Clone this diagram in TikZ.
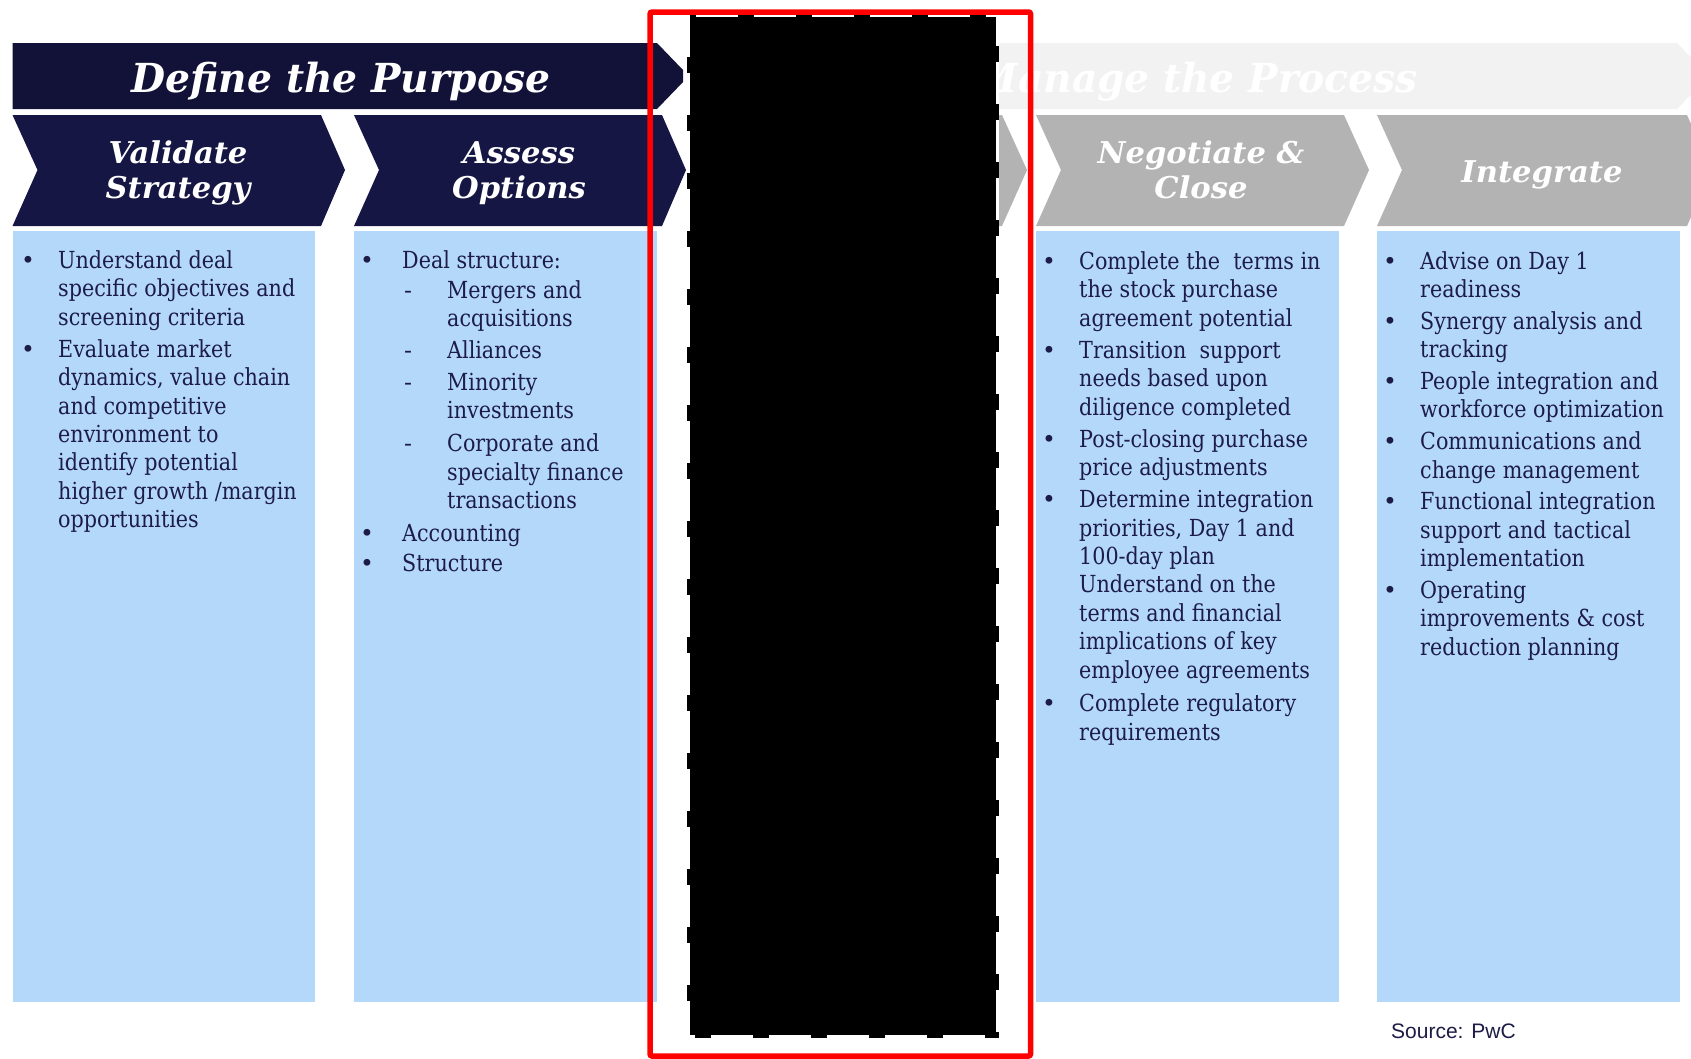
\documentclass[tikz,border=0pt]{standalone}
\usepackage{fontspec}
\setmainfont{DejaVu Serif}[FakeStretch=0.88]
\newfontfamily\titlefont{DejaVu Serif}[FakeStretch=0.98]
\newfontfamily\headfont{DejaVu Serif}[FakeStretch=1.02]
\newfontfamily\bulfont{DejaVu Serif}
\newfontfamily\srcfont{Liberation Sans}
\definecolor{navyD}{RGB}{18,17,56}
\definecolor{navyC}{RGB}{22,22,69}
\definecolor{lblue}{RGB}{180,216,250}
\definecolor{chgray}{RGB}{179,179,179}
\definecolor{mgray}{RGB}{242,242,242}
\definecolor{txt}{RGB}{28,28,70}
\tikzset{
  body/.style={anchor=base west, inner sep=0pt, text=txt, font=\fontsize{23.5}{28}\selectfont},
  bul/.style={anchor=base, inner sep=0pt, text=txt, font=\bulfont\fontsize{23.5}{28}\selectfont},
  htitle/.style={anchor=base, inner sep=0pt, text=white, font=\titlefont\bfseries\itshape\fontsize{40}{44}\selectfont},
  hchev/.style={anchor=base, inner sep=0pt, text=white, font=\headfont\bfseries\itshape\fontsize{30}{36}\selectfont},
}
\begin{document}
\begin{tikzpicture}[x=1pt,y=-1pt]
\useasboundingbox (0,0) rectangle (1691,1058);
\clip (0,0) rectangle (1691,1058);
\fill[white] (0,0) rectangle (1691,1058);
% banners
\fill[navyD] (12.5,43) -- (657,43) -- (683,70) -- (683,82) -- (657,109) -- (12.5,109) -- cycle;
\fill[mgray] (698,43) -- (1677,43) -- (1703,70) -- (1703,82) -- (1677,109) -- (698,109) -- cycle;
% chevrons
\fill[navyC] (12.5,115) -- (321,115) -- (345,170) -- (321,226) -- (12.5,226) -- (37.5,170) -- cycle;
\fill[navyC] (354,115) -- (662,115) -- (686,170) -- (662,226) -- (354,226) -- (379,170) -- cycle;
\fill[chgray] (695,115) -- (1002,115) -- (1027,170) -- (1002,226) -- (695,226) -- (720,170) -- cycle;
\fill[chgray] (1036,115) -- (1344,115) -- (1369,170) -- (1344,226) -- (1036,226) -- (1061,170) -- cycle;
\fill[chgray] (1377,115) -- (1687,115) -- (1712,170) -- (1687,226) -- (1377,226) -- (1402,170) -- cycle;
% boxes
\fill[lblue] (12.5,231) rectangle (315,1002);
\fill[lblue] (354,231) rectangle (657,1002);
\fill[lblue] (695,231) rectangle (998,1002);
\fill[lblue] (1036,231) rectangle (1339,1002);
\fill[lblue] (1377,231) rectangle (1680,1002);
% headings
\node[htitle] (t1) at (341,92.5) {Define the Purpose};
\node[htitle, anchor=base east] (t2) at (1418,92.5) {Manage the Process};
\node[hchev] (h1a) at (178,163) {Validate};
\node[hchev] (h1b) at (178,198) {Strategy};
\node[hchev] (h2a) at (519,163) {Assess};
\node[hchev] (h2b) at (519,198) {Options};
\node[hchev] (h4a) at (1201,163) {Negotiate \&};
\node[hchev] (h4b) at (1201,198) {Close};
\node[hchev] (h5a) at (1542,182) {Integrate};
% column 1
\foreach \y/\t [count=\i] in {268.3/{Understand deal}, 296.7/{specific objectives and}, 325.1/{screening criteria},
  357.3/{Evaluate market}, 385.7/{dynamics, value chain}, 414.1/{and competitive}, 442.5/{environment to},
  470.9/{identify potential}, 499.3/{higher growth /margin}, 527.7/{opportunities}}
  \node[body] (a\i) at (58,\y) {\t};
\foreach \y [count=\i] in {268.3,357.3} \node[bul] (ab\i) at (28,\y) {•};
% column 2
\node[body] (b1) at (402,268.3) {Deal structure:};
\foreach \y/\t [count=\i] in {298.3/{Mergers and}, 326.7/{acquisitions}, 358.3/{Alliances}, 390/{Minority},
  418.3/{investments}, 451.7/{Corporate and}, 480/{specialty finance}, 508.3/{transactions}}
  \node[body] (bs\i) at (447,\y) {\t};
\node[body] (b2) at (402,541.7) {Accounting};
\node[body] (b3) at (402,571.7) {Structure};
\foreach \y [count=\i] in {268.3,541.7,571.7} \node[bul] (bb\i) at (367,\y) {•};
\foreach \y [count=\i] in {298.3,358.3,390,451.7} \node[bul] (bd\i) at (408,\y) {-};
% column 4
\foreach \y/\t [count=\i] in {269.3/{Complete the\ \ terms in}, 297.7/{the stock purchase}, 326.1/{agreement potential},
  358.3/{Transition\ \ support}, 386.7/{needs based upon}, 415.1/{diligence completed},
  447.3/{Post-closing purchase}, 475.7/{price adjustments},
  507.7/{Determine integration}, 536.1/{priorities, Day 1 and}, 564.5/{100-day plan},
  592.9/{Understand on the}, 621.3/{terms and financial}, 649.7/{implications of key}, 678.1/{employee agreements},
  711.7/{Complete regulatory}, 740.1/{requirements}}
  \node[body] (d\i) at (1079,\y) {\t};
\foreach \y [count=\i] in {269.3,358.3,447.3,507.7,711.7} \node[bul] (db\i) at (1049,\y) {•};
% column 5
\foreach \y/\t [count=\i] in {269.3/{Advise on Day 1}, 297.7/{readiness}, 329.5/{Synergy analysis and}, 357.9/{tracking},
  389.5/{People integration and}, 417.9/{workforce optimization}, 449.7/{Communications and}, 478.1/{change management},
  509.9/{Functional integration}, 538.3/{support and tactical}, 566.7/{implementation},
  598.5/{Operating}, 626.9/{improvements \& cost}, 655.3/{reduction planning}}
  \node[body] (e\i) at (1420,\y) {\t};
\foreach \y [count=\i] in {269.3,329.5,389.5,449.7,509.9,598.5} \node[bul] (eb\i) at (1390,\y) {•};
% source
\node[anchor=base west, inner sep=0pt, text=txt, font=\srcfont\fontsize{21}{24}\selectfont] (src) at (1391,1038) {Source: PwC};
% redaction
\fill[black] (688,15) rectangle (997,1036);
\draw[black, line width=3] (688,15) rectangle (997,1036);
\draw[white, line width=3, dash pattern=on 42pt off 16pt] (688,15) rectangle (997,1036);
\draw[red, line width=5.5, rounded corners=2] (650,12) rectangle (1030.5,1056);
\end{tikzpicture}
\end{document}
